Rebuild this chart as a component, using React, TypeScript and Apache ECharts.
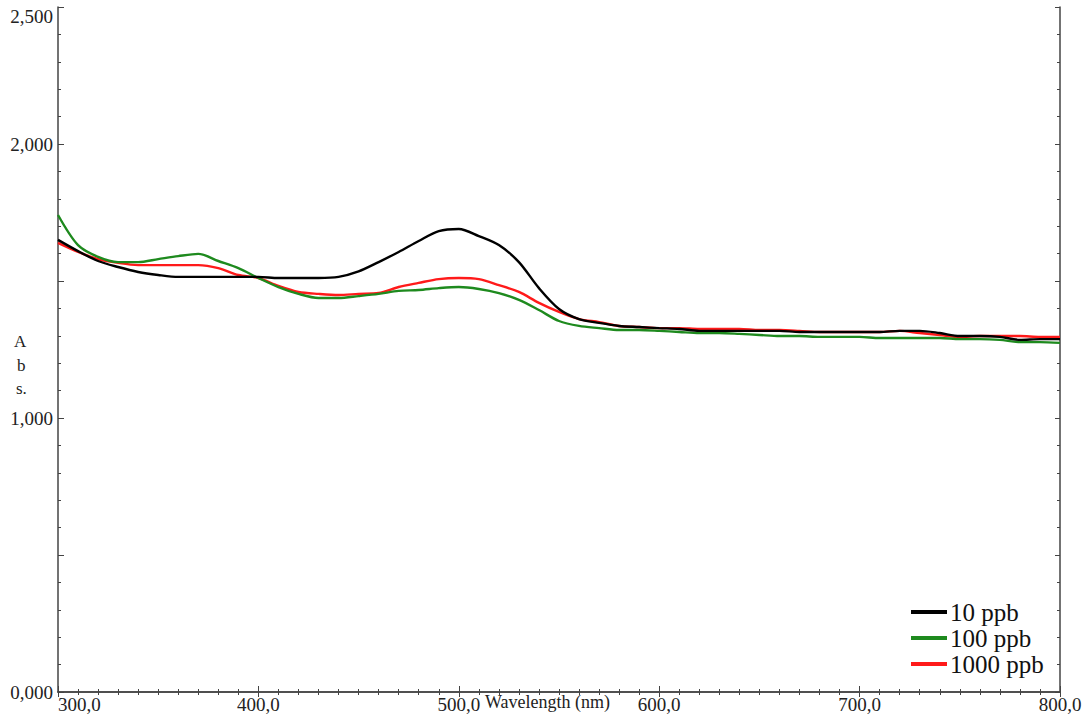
import React, { useEffect, useRef } from "react";
import * as echarts from "echarts";

const wavelengths = [300,310,320,330,340,350,360,370,380,390,400,410,420,430,440,450,460,470,480,490,500,510,520,530,540,550,560,570,580,590,600,610,620,630,640,650,660,670,680,690,700,710,720,730,740,750,760,770,780,790,800];

const ppb10 = [1.650,1.609,1.573,1.551,1.533,1.522,1.515,1.515,1.515,1.515,1.515,1.511,1.511,1.511,1.515,1.535,1.569,1.606,1.646,1.682,1.690,1.664,1.631,1.569,1.474,1.398,1.361,1.347,1.336,1.332,1.328,1.325,1.318,1.318,1.318,1.318,1.318,1.314,1.314,1.314,1.314,1.314,1.318,1.318,1.310,1.299,1.299,1.296,1.285,1.288,1.288];

const ppb100 = [1.741,1.631,1.588,1.569,1.569,1.580,1.591,1.599,1.573,1.547,1.511,1.478,1.453,1.438,1.438,1.445,1.453,1.464,1.467,1.474,1.478,1.471,1.456,1.431,1.394,1.354,1.336,1.328,1.321,1.321,1.318,1.314,1.310,1.310,1.307,1.303,1.299,1.299,1.296,1.296,1.296,1.292,1.292,1.292,1.292,1.288,1.288,1.285,1.277,1.277,1.274];

const ppb1000 = [1.639,1.606,1.580,1.566,1.558,1.558,1.558,1.558,1.547,1.522,1.511,1.482,1.460,1.453,1.449,1.453,1.456,1.478,1.493,1.507,1.511,1.507,1.485,1.460,1.420,1.387,1.361,1.350,1.336,1.332,1.328,1.328,1.325,1.325,1.325,1.321,1.321,1.318,1.314,1.314,1.314,1.314,1.318,1.310,1.303,1.296,1.299,1.299,1.299,1.296,1.296];

const seriesNames = ["10 ppb", "100 ppb", "1000 ppb"];
const seriesColors = ["#000000", "#1e8a1e", "#ff1a1a"];
const yLabelValues = [0, 1, 2, 2.5];

const FONT = "'Liberation Serif', 'Times New Roman', serif";
const AXIS_COLOR = "#444444";
const LABEL_COLOR = "#222222";

export default function App() {
  const ref = useRef<HTMLDivElement>(null);

  useEffect(() => {
    if (!ref.current) return;
    const chart = echarts.init(ref.current, null, { renderer: "svg" });
    const toPairs = (vals: number[]) => wavelengths.map((w, i) => [w, vals[i]]);
    const allSeries = [ppb10, ppb100, ppb1000];

    const option: any = {
      animation: false,
      backgroundColor: "#ffffff",
      grid: { left: 58, right: 26, top: 7, bottom: 23, containLabel: false },
      legend: {
        orient: "vertical",
        left: 906,
        top: 594,
        itemGap: 0,
        itemWidth: 36,
        itemHeight: 12,
        icon: "path://M0,0 L36,0 L36,4 L0,4 Z",
        data: seriesNames,
        textStyle: { fontFamily: FONT, fontSize: 25, color: "#111", lineHeight: 26, padding: [0, 0, 0, -2] },
      },
      xAxis: [
        {
          type: "value",
          min: 300,
          max: 800,
          interval: 100,
          position: "bottom",
          axisLine: { show: true, lineStyle: { color: AXIS_COLOR, width: 1.5 } },
          axisTick: { show: true, inside: true, length: 6, lineStyle: { color: AXIS_COLOR } },
          minorTick: { show: true, splitNumber: 10, length: 3, lineStyle: { color: AXIS_COLOR } },
          splitLine: { show: false },
          axisLabel: {
            show: true,
            margin: 3,
            fontFamily: FONT,
            fontSize: 19,
            color: LABEL_COLOR,
            formatter: (v: number) => v.toFixed(1).replace(".", ","),
            alignMinLabel: "left",
          },
        },
        {
          type: "value",
          min: 300,
          max: 800,
          interval: 100,
          position: "top",
          axisLine: { show: true, lineStyle: { color: AXIS_COLOR, width: 1.5 } },
          axisTick: { show: true, inside: true, length: 5, lineStyle: { color: AXIS_COLOR } },
          minorTick: { show: true, splitNumber: 10, length: 3, lineStyle: { color: AXIS_COLOR } },
          splitLine: { show: false },
          axisLabel: { show: false },
        },
      ],
      yAxis: [
        {
          type: "value",
          min: 0,
          max: 2.5,
          interval: 0.5,
          position: "left",
          axisLine: { show: true, lineStyle: { color: AXIS_COLOR, width: 1.5 } },
          axisTick: { show: true, inside: true, length: 6, lineStyle: { color: AXIS_COLOR } },
          minorTick: { show: true, splitNumber: 5, length: 3, lineStyle: { color: AXIS_COLOR } },
          splitLine: { show: false },
          axisLabel: {
            show: true,
            margin: 5,
            fontFamily: FONT,
            fontSize: 19,
            color: LABEL_COLOR,
            formatter: (v: number) =>
              yLabelValues.some((l) => Math.abs(l - v) < 1e-6) ? v.toFixed(3).replace(".", ",") : "",
            verticalAlignMaxLabel: "top",
          },
        },
        {
          type: "value",
          min: 0,
          max: 2.5,
          interval: 0.5,
          position: "right",
          axisLine: { show: true, lineStyle: { color: AXIS_COLOR, width: 1.5 } },
          axisTick: { show: true, inside: true, length: 5, lineStyle: { color: AXIS_COLOR } },
          minorTick: { show: true, splitNumber: 5, length: 3, lineStyle: { color: AXIS_COLOR } },
          splitLine: { show: false },
          axisLabel: { show: false },
        },
      ],
      series: seriesNames.map((name, i) => ({
        name,
        type: "line",
        xAxisIndex: 0,
        yAxisIndex: 0,
        data: toPairs(allSeries[i]),
        symbol: "none",
        smooth: 0.3,
        color: seriesColors[i],
        lineStyle: { color: seriesColors[i], width: 2.4 },
        z: 3 - i,
      })),
      graphic: [
        {
          type: "text",
          left: 485,
          top: 693,
          style: { text: "Wavelength (nm)", font: `18px ${FONT}`, fill: LABEL_COLOR },
        },
        { type: "text", left: 14, top: 333, style: { text: "A", font: `17px ${FONT}`, fill: LABEL_COLOR } },
        { type: "text", left: 17, top: 357, style: { text: "b", font: `17px ${FONT}`, fill: LABEL_COLOR } },
        { type: "text", left: 16, top: 380, style: { text: "s.", font: `17px ${FONT}`, fill: LABEL_COLOR } },
      ],
    };

    chart.setOption(option);
    return () => chart.dispose();
  }, []);

  return (
    <div
      ref={ref}
      style={{ position: "fixed", left: 0, top: 0, width: 1086, height: 715, background: "#fff" }}
    />
  );
}
